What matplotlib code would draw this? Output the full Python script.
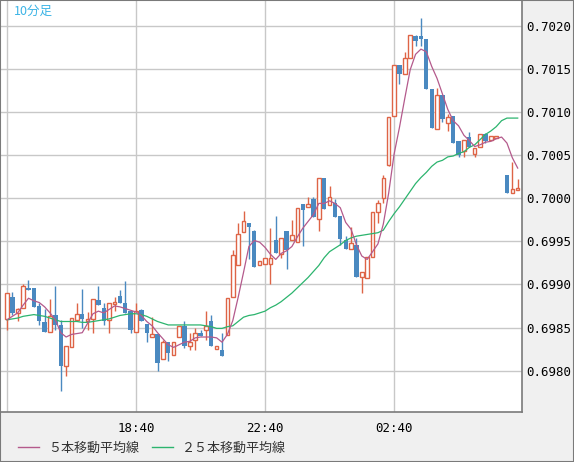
import numpy as np
import pandas as pd
import matplotlib
matplotlib.use("Agg")
from matplotlib import pyplot as plt
from matplotlib.lines import Line2D
from matplotlib.patches import Rectangle
from matplotlib.ticker import MultipleLocator, FormatStrFormatter

nan = np.nan

# 10 minute bars, first bar 14:40
opens = [
    0.69860, 0.69885, 0.69867, 0.69873, 0.69896, 0.69896, 0.69875, 0.69856, 0.69845, 0.69864,
    0.69853, 0.69805, 0.69827, 0.69859, 0.69866, 0.69857, 0.69860, 0.69882, 0.69873, 0.69859,
    0.69877, 0.69887, 0.69878, 0.69869, 0.69845, 0.69870, 0.69854, 0.69839, 0.69842, 0.69814,
    0.69833, 0.69818, 0.69839, 0.69852, 0.69829, 0.69835, 0.69844, 0.69847, 0.69858, 0.69825,
    0.69824, 0.69841, 0.69885, 0.69922, 0.69961, 0.69971, 0.69962, 0.69922, 0.69924, 0.69924,
    0.69952, 0.69935, 0.69962, 0.69951, 0.69949, 0.69993, 0.69990, 0.69999, 0.69976, 0.70024,
    0.69992, 0.69995, 0.69979, 0.69952, 0.69941, 0.69946, 0.69909, 0.69908, 0.69932, 0.69984,
    0.70000, 0.70038, 0.70095, 0.70155, 0.70144, 0.70163, 0.70188, 0.70188, 0.70185, 0.70127,
    0.70080, 0.70120, 0.70087, 0.70095, 0.70066, 0.70055, 0.70071, 0.70051, 0.70059, 0.70075,
    0.70068, 0.70070, nan, 0.70027, 0.70006, 0.70009]
highs = [
    0.69890, 0.69891, 0.69873, 0.69900, 0.69905, 0.69896, 0.69878, 0.69871, 0.69883, 0.69898,
    0.69859, 0.69828, 0.69861, 0.69878, 0.69895, 0.69868, 0.69883, 0.69898, 0.69878, 0.69878,
    0.69885, 0.69894, 0.69904, 0.69869, 0.69878, 0.69871, 0.69854, 0.69862, 0.69842, 0.69835,
    0.69833, 0.69833, 0.69852, 0.69857, 0.69844, 0.69850, 0.69847, 0.69869, 0.69864, 0.69829,
    0.69844, 0.69884, 0.69940, 0.69971, 0.69985, 0.69971, 0.69963, 0.69927, 0.69931, 0.69965,
    0.69979, 0.69954, 0.69962, 0.69975, 0.69989, 0.69993, 0.70001, 0.70002, 0.70024, 0.70024,
    0.70014, 0.69999, 0.69979, 0.69956, 0.69967, 0.69954, 0.69914, 0.69932, 0.69984, 0.69998,
    0.70027, 0.70094, 0.70155, 0.70155, 0.70170, 0.70189, 0.70189, 0.70209, 0.70185, 0.70127,
    0.70128, 0.70120, 0.70098, 0.70095, 0.70066, 0.70067, 0.70077, 0.70058, 0.70075, 0.70076,
    0.70072, 0.70072, nan, 0.70027, 0.70042, 0.70022]
lows = [
    0.69847, 0.69864, 0.69857, 0.69873, 0.69893, 0.69874, 0.69853, 0.69845, 0.69845, 0.69847,
    0.69776, 0.69794, 0.69827, 0.69859, 0.69849, 0.69847, 0.69844, 0.69876, 0.69853, 0.69844,
    0.69869, 0.69879, 0.69867, 0.69844, 0.69845, 0.69857, 0.69833, 0.69839, 0.69799, 0.69814,
    0.69811, 0.69818, 0.69839, 0.69826, 0.69824, 0.69824, 0.69840, 0.69836, 0.69828, 0.69825,
    0.69817, 0.69841, 0.69885, 0.69922, 0.69961, 0.69929, 0.69920, 0.69922, 0.69924, 0.69900,
    0.69937, 0.69931, 0.69918, 0.69951, 0.69949, 0.69945, 0.69990, 0.69978, 0.69962, 0.69988,
    0.69992, 0.69978, 0.69946, 0.69941, 0.69941, 0.69909, 0.69890, 0.69908, 0.69932, 0.69971,
    0.69994, 0.70037, 0.70095, 0.70132, 0.70144, 0.70163, 0.70177, 0.70177, 0.70127, 0.70081,
    0.70080, 0.70088, 0.70078, 0.70064, 0.70048, 0.70048, 0.70060, 0.70048, 0.70059, 0.70064,
    0.70068, 0.70070, nan, 0.70006, 0.70006, 0.70009]
closes = [
    0.69890, 0.69867, 0.69871, 0.69898, 0.69893, 0.69874, 0.69857, 0.69845, 0.69863, 0.69853,
    0.69805, 0.69828, 0.69861, 0.69866, 0.69860, 0.69860, 0.69883, 0.69876, 0.69857, 0.69878,
    0.69880, 0.69879, 0.69867, 0.69847, 0.69869, 0.69857, 0.69844, 0.69842, 0.69809, 0.69833,
    0.69821, 0.69833, 0.69852, 0.69828, 0.69833, 0.69844, 0.69840, 0.69852, 0.69828, 0.69829,
    0.69817, 0.69884, 0.69934, 0.69959, 0.69974, 0.69967, 0.69920, 0.69927, 0.69931, 0.69931,
    0.69937, 0.69954, 0.69940, 0.69957, 0.69989, 0.69986, 0.69993, 0.69978, 0.70024, 0.69988,
    0.70002, 0.69978, 0.69953, 0.69941, 0.69948, 0.69909, 0.69914, 0.69932, 0.69984, 0.69995,
    0.70024, 0.70094, 0.70155, 0.70144, 0.70163, 0.70189, 0.70183, 0.70185, 0.70127, 0.70081,
    0.70120, 0.70092, 0.70094, 0.70064, 0.70050, 0.70067, 0.70060, 0.70058, 0.70075, 0.70066,
    0.70072, 0.70072, nan, 0.70006, 0.70011, 0.70012]

# moving averages
ma5 = [
    0.69859, 0.69863, 0.69867, 0.69876, 0.69884, 0.69881, 0.69879, 0.69874, 0.69867, 0.69859,
    0.69844, 0.69839, 0.69842, 0.69843, 0.69844, 0.69855, 0.69866, 0.69869, 0.69867, 0.69871,
    0.69875, 0.69874, 0.69872, 0.69870, 0.69868, 0.69864, 0.69857, 0.69852, 0.69844, 0.69837,
    0.69830, 0.69827, 0.69830, 0.69833, 0.69834, 0.69838, 0.69839, 0.69839, 0.69839, 0.69838,
    0.69833, 0.69842, 0.69858, 0.69885, 0.69914, 0.69944, 0.69951, 0.69949, 0.69943, 0.69935,
    0.69929, 0.69936, 0.69939, 0.69944, 0.69955, 0.69965, 0.69973, 0.69981, 0.69994, 0.69994,
    0.69997, 0.69994, 0.69989, 0.69972, 0.69964, 0.69946, 0.69933, 0.69929, 0.69938, 0.69947,
    0.69970, 0.70006, 0.70051, 0.70082, 0.70116, 0.70149, 0.70167, 0.70173, 0.70170, 0.70153,
    0.70139, 0.70121, 0.70103, 0.70090, 0.70084, 0.70073, 0.70067, 0.70060, 0.70062, 0.70065,
    0.70066, 0.70069, 0.70071, 0.70064, 0.70047, 0.70035]
ma25 = [
    0.69859, 0.69860, 0.69861, 0.69863, 0.69864, 0.69865, 0.69864, 0.69863, 0.69861, 0.69859,
    0.69857, 0.69857, 0.69857, 0.69857, 0.69856, 0.69856, 0.69857, 0.69858, 0.69859, 0.69860,
    0.69862, 0.69864, 0.69865, 0.69866, 0.69866, 0.69865, 0.69863, 0.69860, 0.69857, 0.69855,
    0.69853, 0.69853, 0.69853, 0.69853, 0.69853, 0.69853, 0.69853, 0.69852, 0.69851, 0.69849,
    0.69849, 0.69851, 0.69852, 0.69857, 0.69862, 0.69864, 0.69865, 0.69867, 0.69869, 0.69873,
    0.69876, 0.69880, 0.69885, 0.69890, 0.69896, 0.69902, 0.69908, 0.69915, 0.69922, 0.69931,
    0.69938, 0.69942, 0.69946, 0.69951, 0.69954, 0.69956, 0.69957, 0.69958, 0.69959, 0.69960,
    0.69963, 0.69973, 0.69982, 0.69990, 0.69999, 0.70008, 0.70017, 0.70024, 0.70030, 0.70037,
    0.70042, 0.70044, 0.70048, 0.70049, 0.70052, 0.70054, 0.70059, 0.70062, 0.70068, 0.70074,
    0.70078, 0.70083, 0.70090, 0.70093, 0.70093, 0.70093]

tick_labels = ["18:40", "22:40", "02:40"]
legend_labels = ["５本移動平均線", "２５本移動平均線"]
title_text = "10分足"

up_color = "#de6446"
down_color = "#4a89c0"
ma5_color = "#b45a8c"
ma25_color = "#2cb46e"

plt.rcParams["font.family"] = ["DejaVu Sans Mono"]

o = np.array(opens)
h = np.array(highs)
l = np.array(lows)
c = np.array(closes)
x = np.arange(len(c))
times = pd.date_range("2017-06-20 14:40", periods=len(c), freq="10min")

fig = plt.figure(figsize=(5.74, 4.62), dpi=100, facecolor="#f0f0f0")
ax = fig.add_axes([0, 50 / 462, 522 / 574, 412 / 462])
ax.set_facecolor("white")

valid = ~np.isnan(c)
up = valid & (c >= o)
dn = valid & (c < o)

# wicks
ax.vlines(x[up], l[up], h[up], color=up_color, lw=1.0, zorder=2)
ax.vlines(x[dn], l[dn], h[dn], color=down_color, lw=1.0, zorder=2)
# bodies: hollow for up, filled for down
ax.bar(x[up], (c - o)[up], bottom=o[up], width=0.66, facecolor="white",
       edgecolor=up_color, linewidth=1.0, zorder=3)
ax.bar(x[dn], (o - c)[dn], bottom=c[dn], width=0.8, color=down_color,
       linewidth=0, zorder=3)

ax.plot(x, ma25, color=ma25_color, lw=0.9, zorder=4)
ax.plot(x, ma5, color=ma5_color, lw=0.9, zorder=4)

ax.set_xlim(-1.3, 95.8)
ax.set_ylim(0.69752, 0.70230)

grid_idx = [i for i, t in enumerate(times) if t.minute == 40 and t.hour % 4 == 2]
ax.set_xticks(grid_idx)
ax.set_xticklabels([times[i].strftime("%H:%M") if times[i].strftime("%H:%M") in tick_labels else ""
                    for i in grid_idx])
ax.yaxis.set_major_locator(MultipleLocator(0.0005))
ax.yaxis.set_major_formatter(FormatStrFormatter("%.4f"))
ax.yaxis.tick_right()
ax.tick_params(axis="y", length=0, pad=3, labelsize=9)
ax.tick_params(axis="x", length=0, pad=7, labelsize=9)
ax.grid(color="#c8c8c8", lw=1.0, zorder=0)
ax.set_axisbelow(True)
for s in ax.spines.values():
    s.set_color("#7a7a7a")
    s.set_linewidth(1.2)

fig.text(14 / 574, 1 - 5 / 462, title_text, ha="left", va="top", color="#3cb4e6",
         fontsize=9, family=["Noto Sans CJK JP"])

handles = [Line2D([], [], color=ma5_color, lw=1), Line2D([], [], color=ma25_color, lw=1)]
fig.legend(handles, legend_labels, loc="center left", bbox_to_anchor=(6 / 574, 1 - 448 / 462),
           ncol=2, frameon=False, prop={"family": "Noto Sans CJK JP", "size": 9.4},
           handlelength=1.6, handletextpad=0.7, columnspacing=1.0, labelcolor="#333333")

fig.patches.append(Rectangle((0, 0), 1, 1, transform=fig.transFigure, fill=False,
                             edgecolor="#7a7a7a", linewidth=1.5))

plt.savefig("out.png", dpi=100, facecolor=fig.get_facecolor())
